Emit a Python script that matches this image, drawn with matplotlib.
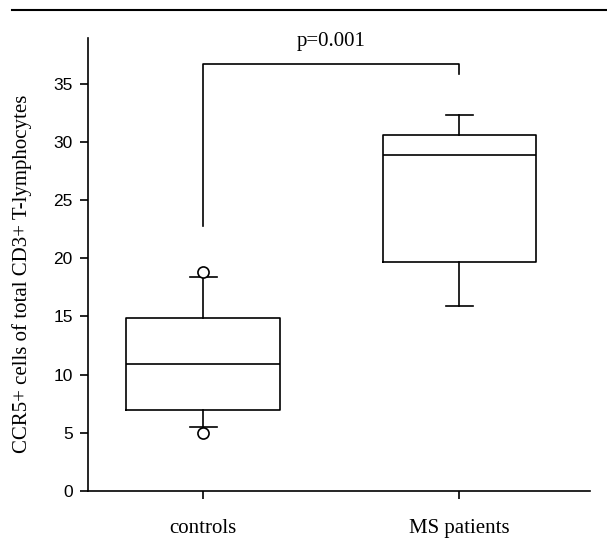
import matplotlib
matplotlib.use("Agg")
import matplotlib.pyplot as plt
from matplotlib.lines import Line2D

categories = ["controls", "MS patients"]
whislo = [5.5, 15.9]
q1 = [7.0, 19.7]
med = [10.9, 28.9]
q3 = [14.9, 30.6]
whishi = [18.4, 32.3]
fliers = [[5.0, 18.8], []]
yticks = [0, 5, 10, 15, 20, 25, 30, 35]
p_text = "p=0.001"
bracket_top = 36.7
bracket_left_bottom = 22.8
bracket_right_bottom = 35.8

fig = plt.figure(figsize=(6.07, 5.46), dpi=100)
ax = fig.add_axes([0.145, 0.1007, 0.827, 0.829])

stats = []
for i, c in enumerate(categories):
    stats.append(dict(label=c, whislo=whislo[i], q1=q1[i], med=med[i],
                      q3=q3[i], whishi=whishi[i], fliers=fliers[i]))

ax.bxp(stats, positions=[0, 1], widths=0.6, capwidths=0.105,
       boxprops=dict(color="black", linewidth=1.2),
       medianprops=dict(color="black", linewidth=1.2),
       whiskerprops=dict(color="black", linewidth=1.2),
       capprops=dict(color="black", linewidth=1.2),
       flierprops=dict(marker="o", markerfacecolor="white",
                       markeredgecolor="black", markersize=8, markeredgewidth=1.2))

ax.set_xlim(-0.45, 1.51)
ax.set_ylim(0, 38.9)
ax.set_yticks(yticks)
ax.set_yticklabels([str(t) for t in yticks], fontfamily="Liberation Sans", fontsize=12.5)
ax.set_xticks([0, 1])
ax.set_xticklabels(categories, fontfamily="Liberation Serif", fontsize=15)
ax.tick_params(axis="x", length=6, width=1.2, pad=14)
ax.tick_params(axis="y", length=6, width=1.2, pad=5)
ax.spines["top"].set_visible(False)
ax.spines["right"].set_visible(False)
ax.spines["left"].set_linewidth(1.2)
ax.spines["bottom"].set_linewidth(1.2)
ax.set_ylabel("CCR5+ cells of total CD3+ T-lymphocytes",
              fontfamily="Liberation Serif", fontsize=15, labelpad=15)
ax.yaxis.label.set_y(0.48)

# significance bracket
ax.plot([0, 0, 1, 1], [bracket_left_bottom, bracket_top, bracket_top, bracket_right_bottom],
        color="black", linewidth=1.2, clip_on=False)
ax.text(0.5, bracket_top + 1.1, p_text, ha="center", va="bottom",
        fontfamily="Liberation Serif", fontsize=15)

# top rule line
fig.add_artist(Line2D([12 / 607, 1.0], [1 - 10 / 546, 1 - 10 / 546],
                      color="black", linewidth=1.5))

fig.savefig("out.png", dpi=100)
